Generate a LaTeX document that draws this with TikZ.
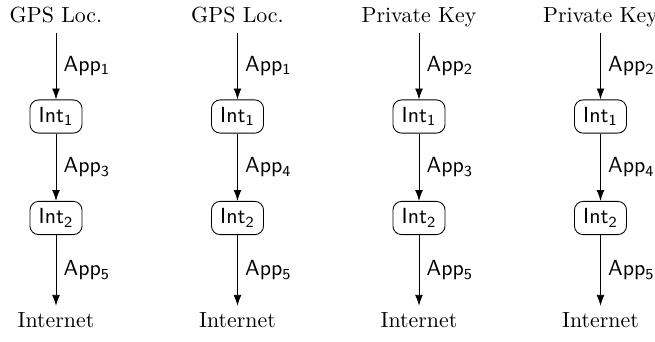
\documentclass[tikz,border=0pt]{standalone}
\usetikzlibrary{arrows.meta}
\begin{document}
\begin{tikzpicture}[x=0.457pt,y=-0.457pt,
  endpoint/.style={anchor=base,inner sep=2.5pt,text height=7pt,text depth=2.2pt},
  iface/.style={draw,rounded corners=4pt,font=\sffamily,minimum width=23.8pt,minimum height=15.2pt,inner xsep=3pt,inner ysep=2pt},
  flow/.style={draw,-{Latex[length=5pt,width=3.6pt]},thin},
  applbl/.style={midway,right,font=\sffamily}]
\useasboundingbox (0,0) rectangle (655,341);
% one column per data flow: source -> Int1 -> Int2 -> Internet
\foreach \i/\x/\src/\a/\b in {1/56/GPS Loc./1/3, 2/237.5/GPS Loc./1/4, 3/419/Private Key/2/3, 4/600.5/Private Key/2/4} {
  \node[endpoint] (src\i) at (\x,22) {\src};
  \node[iface] (inta\i) at (\x,116.5) {Int$_{\mathsf{1}}$};
  \node[iface] (intb\i) at (\x,218) {Int$_{\mathsf{2}}$};
  \node[endpoint] (net\i) at (\x,327) {Internet};
  \draw[flow] (src\i) -- node[applbl] {App$_{\mathsf{\a}}$} (inta\i);
  \draw[flow] (inta\i) -- node[applbl] {App$_{\mathsf{\b}}$} (intb\i);
  \draw[flow] (intb\i) -- node[applbl] {App$_{\mathsf{5}}$} (net\i);
}
\end{tikzpicture}
\end{document}
